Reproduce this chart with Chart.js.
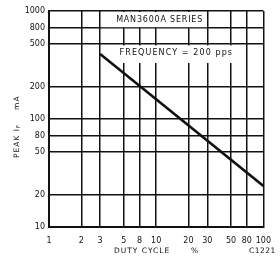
<!DOCTYPE html>
<html>
<head>
<meta charset="utf-8">
<script src="https://cdn.jsdelivr.net/npm/chart.js@4.4.1/dist/chart.umd.min.js"></script>
<style>
html, body { margin: 0; padding: 0; background: #fff; }
#wrap { width: 280px; height: 264px; }
</style>
</head>
<body>
<div id="wrap"><canvas id="chart" width="280" height="264"></canvas></div>
<script>
// curva de corriente de pico vs ciclo de trabajo (escala log-log)
const dutyCycle = [3, 100];
const peakCurrent = [400, 24];

// lineas de la rejilla y sus etiquetas tal como se ven en la imagen
const xTickValues = [1, 2, 3, 5, 7, 10, 20, 30, 50, 70, 100];
const xTickLabels = ['1', '2', '3', '5', '8', '10', '20', '30', '50', '80', '100'];
const yTickValues = [10, 20, 50, 70, 100, 200, 500, 700, 1000];
const yTickLabels = ['10', '20', '50', '80', '100', '200', '500', '800', '1000'];

const seriesLabel = 'MAN3600A SERIES';
const frequencyLabel = 'FREQUENCY = 200 pps';

const ink = '#111';
const fontFamily = "'DejaVu Sans', sans-serif";

// cajas de texto, titulos de ejes y codigo de figura
const annotations = {
    id: 'annotations',
    beforeDatasetsDraw(chart) {
        const { ctx, scales: { x, y } } = chart;
        ctx.save();
        ctx.fillStyle = '#fff';

        // caja del titulo de la serie (entre lineas 3-30 y 700-1000)
        let l = x.getPixelForValue(3), r = x.getPixelForValue(30);
        let t = y.getPixelForValue(1000), b = y.getPixelForValue(700);
        ctx.fillRect(l + 1, t + 1, r - l - 1.5, b - t - 1.5);

        // fondo blanco detras de la frecuencia
        const fl = x.getPixelForValue(4), fr = x.getPixelForValue(60);
        const ft = y.getPixelForValue(480), fb = y.getPixelForValue(330);
        ctx.fillRect(fl, ft, fr - fl, fb - ft);

        ctx.fillStyle = ink;
        ctx.font = '8px ' + fontFamily;
        ctx.letterSpacing = '0.8px';
        ctx.textBaseline = 'middle';
        ctx.textAlign = 'left';
        ctx.fillText(seriesLabel, l + 16, (t + b) / 2 + 1);
        ctx.letterSpacing = '1.1px';
        ctx.fillText(frequencyLabel, fl + 6, (ft + fb) / 2 - 1);
        ctx.restore();
    },
    afterDraw(chart) {
        const { ctx } = chart;
        ctx.save();
        ctx.fillStyle = ink;
        ctx.textBaseline = 'middle';
        ctx.letterSpacing = '1px';

        // titulo eje Y: PEAK I_F  mA (rotado)
        ctx.translate(17, 122);
        ctx.rotate(-Math.PI / 2);
        ctx.font = '7.5px ' + fontFamily;
        ctx.textAlign = 'left';
        let cx = -36;
        ctx.fillText('PEAK I', cx, 0);
        cx += ctx.measureText('PEAK I').width;
        ctx.font = '5.5px ' + fontFamily;
        ctx.fillText('F', cx, 2);
        cx += ctx.measureText('F').width + 14;
        ctx.font = '7.5px ' + fontFamily;
        ctx.fillText('mA', cx, 0);
        ctx.setTransform(1, 0, 0, 1, 0, 0);

        // titulo eje X
        ctx.font = '7.5px ' + fontFamily;
        ctx.fillText('DUTY CYCLE', 114, 251);
        ctx.fillText('%', 191, 251);
        ctx.letterSpacing = '0.5px';
        ctx.fillText('C1221', 249, 251);
        ctx.restore();
    }
};

const tickFont = { family: fontFamily, size: 8 };

new Chart(document.getElementById('chart'), {
    type: 'line',
    data: {
        datasets: [{
            data: dutyCycle.map((d, i) => ({ x: d, y: peakCurrent[i] })),
            borderColor: ink,
            borderWidth: 2.5,
            pointRadius: 0,
            fill: false
        }]
    },
    options: {
        responsive: false,
        animation: false,
        layout: { padding: { left: 0, right: 12, top: 11, bottom: 0 } },
        plugins: { legend: { display: false }, tooltip: { enabled: false } },
        scales: {
            x: {
                type: 'logarithmic',
                min: 1,
                max: 100,
                afterBuildTicks: s => { s.ticks = xTickValues.map(v => ({ value: v })); },
                afterFit: s => { s.height = 37; },
                ticks: {
                    autoSkip: false,
                    maxRotation: 0,
                    padding: 9,
                    color: ink,
                    font: tickFont,
                    callback: (v, i) => xTickLabels[i]
                },
                grid: { color: ink, lineWidth: 1.5, drawTicks: false },
                border: { color: ink, width: 2 }
            },
            y: {
                type: 'logarithmic',
                min: 10,
                max: 1000,
                afterBuildTicks: s => { s.ticks = yTickValues.map(v => ({ value: v })); },
                afterFit: s => { s.width = 49; },
                ticks: {
                    autoSkip: false,
                    padding: 4,
                    color: ink,
                    font: tickFont,
                    callback: (v, i) => yTickLabels[i]
                },
                grid: { color: ink, lineWidth: 1.5, drawTicks: false },
                border: { color: ink, width: 2 }
            }
        }
    },
    plugins: [annotations]
});
</script>
</body>
</html>
